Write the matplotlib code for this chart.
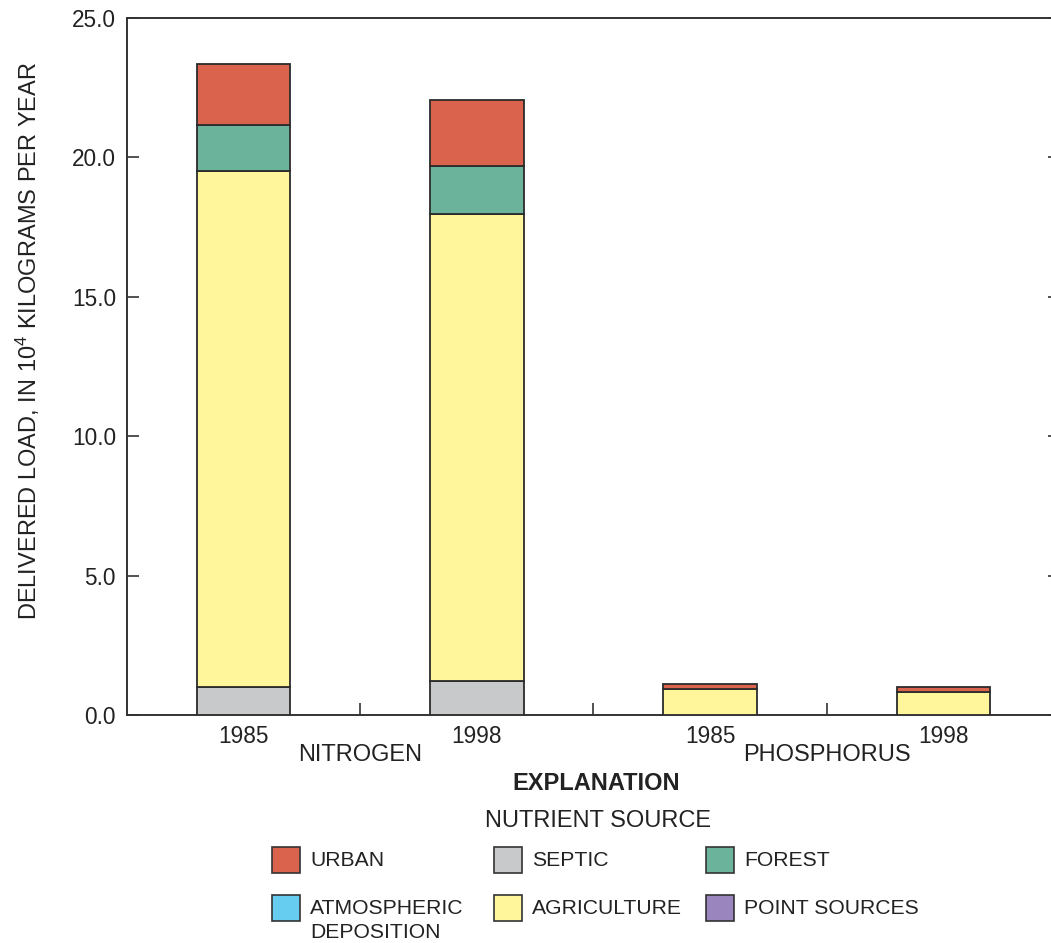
import matplotlib
matplotlib.use("Agg")
import matplotlib.pyplot as plt
from matplotlib.patches import Rectangle
import numpy as np

# Delivered load, in 10^4 kg per year, by nutrient source
years = ["1985", "1998", "1985", "1998"]
nutrients = ["NITROGEN", "PHOSPHORUS"]
septic = [1.0, 1.22, 0.0, 0.0]
agriculture = [18.52, 16.76, 0.92, 0.81]
forest = [1.63, 1.72, 0.0, 0.0]
urban = [2.19, 2.36, 0.18, 0.21]
atmospheric = [0.0, 0.0, 0.0, 0.0]
point_sources = [0.0, 0.0, 0.0, 0.0]

yticks = [0, 5, 10, 15, 20, 25]

# stacking order, bottom to top
stack = [
    ("SEPTIC", septic, "#C8C9CB"),
    ("AGRICULTURE", agriculture, "#FFF59B"),
    ("FOREST", forest, "#6BB39A"),
    ("URBAN", urban, "#D9634C"),
    ("ATMOSPHERIC\nDEPOSITION", atmospheric, "#66CCF0"),
    ("POINT SOURCES", point_sources, "#9B85BE"),
]
colors = {name: c for name, _, c in stack}

# legend grid (row-major order)
legend_order = ["URBAN", "SEPTIC", "FOREST",
                "ATMOSPHERIC\nDEPOSITION", "AGRICULTURE", "POINT SOURCES"]

FONT = ["Liberation Sans", "DejaVu Sans"]
plt.rcParams["mathtext.fontset"] = "custom"
plt.rcParams["mathtext.rm"] = "Liberation Sans"
plt.rcParams["mathtext.it"] = "Liberation Sans"
TXT = "#222222"

W, H = 1051, 943
fig = plt.figure(figsize=(W / 100, H / 100), dpi=100)
ax = fig.add_axes([127 / W, (H - 715) / H, (1060 - 127) / W, 697 / H])

x = np.arange(len(years))
bottom = np.zeros(len(years))
edge = "#2b2b2b"
for name, vals, col in stack:
    vals = np.asarray(vals, dtype=float)
    mask = vals > 0
    if mask.any():
        ax.bar(x[mask], vals[mask], width=0.4, bottom=bottom[mask],
               color=col, edgecolor=edge, linewidth=1.3, zorder=3)
    bottom += vals

ax.set_xlim(-0.5, 3.5)
ax.set_ylim(0, 25)
ax.set_yticks(yticks)
ax.set_yticklabels([f"{v:.1f}" for v in yticks], family=FONT, fontsize=16.3,
                   color=TXT)
ax.set_xticks(x)
ax.set_xticklabels(years, family=FONT, fontsize=16.3, color=TXT)
ax.set_xticks([0.5, 1.5, 2.5], minor=True)
ax.tick_params(axis="x", which="major", length=0, pad=7)
ax.tick_params(axis="x", which="minor", direction="in", length=8.6,
               width=1.2, color="#333333")
ax.tick_params(axis="y", which="major", direction="in", length=8.6,
               width=1.2, color="#333333", right=True, pad=8)
for s in ax.spines.values():
    s.set_linewidth(1.4)
    s.set_color("#333333")

# nutrient group labels
for i, lab in enumerate(nutrients):
    ax.text(2 * i + 0.5, -0.058, lab, transform=ax.get_xaxis_transform(),
            ha="center", va="center", family=FONT, fontsize=17,
            color=TXT)

fig.text(28 / W, 1 - 341 / H,
         r"DELIVERED LOAD, IN 10$^4$ KILOGRAMS PER YEAR",
         rotation=90, ha="center", va="center", family=FONT,
         fontsize=17, color=TXT)

fig.text(596 / W, 1 - 784 / H, "EXPLANATION", ha="center", va="center",
         family=FONT, fontsize=17, fontweight="bold", color=TXT)
fig.text(598 / W, 1 - 821 / H, "NUTRIENT SOURCE", ha="center", va="center",
         family=FONT, fontsize=17, color=TXT)

# legend swatches
col_x = [272, 494, 706]
row_y = [847, 895]
sw, sh = 28, 26
for k, name in enumerate(legend_order):
    r, c = divmod(k, 3)
    x0, y0 = col_x[c], row_y[r]
    fig.patches.append(Rectangle((x0 / W, 1 - (y0 + sh) / H), sw / W, sh / H,
                                 transform=fig.transFigure,
                                 facecolor=colors[name], edgecolor="#333333",
                                 linewidth=1.2))
    lines = name.split("\n")
    for j, line in enumerate(lines):
        fig.text((x0 + 38) / W, 1 - (y0 + sh / 2 + 24 * j) / H, line,
                 ha="left", va="center", family=FONT, fontsize=15.2,
                 color=TXT)

fig.savefig("out.png", dpi=100, facecolor="white")
